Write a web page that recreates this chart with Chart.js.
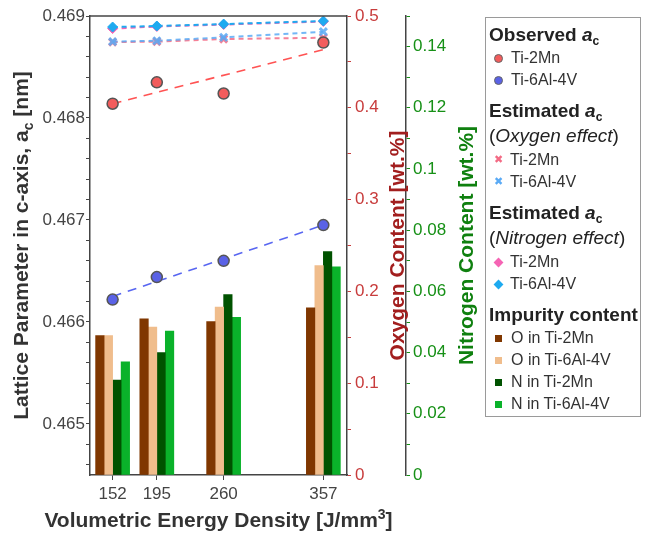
<!DOCTYPE html>
<html>
<head>
<meta charset="utf-8">
<script src="https://cdn.jsdelivr.net/npm/chart.js@4.4.1/dist/chart.umd.min.js"></script>
<style>
  body { margin: 0; background: #fff; font-family: 'Liberation Sans', Arial, sans-serif; }
  #wrap { position: relative; width: 645px; height: 534px; }
  #grafico { position: absolute; left: 0; top: 0; }
  #legenda { position: absolute; left: 485px; top: 17px; width: 148px; border: 1px solid #9a9a9a; padding: 5px 3px 1px 3px; color: #222; }
  #legenda .cab { font-size: 19px; font-weight: bold; line-height: 24px; margin-top: 8px; white-space: nowrap; }
  #legenda .cab:first-child { margin-top: 0; }
  #legenda .sub { font-size: 19px; line-height: 26px; white-space: nowrap; }
  #legenda .item { font-size: 16px; line-height: 22px; color: #333; white-space: nowrap; display: flex; align-items: center; }
  #legenda sub { font-size: 12px; vertical-align: -4px; line-height: 0; }
  .mk { display: inline-block; margin-left: 5px; margin-right: 7px; width: 9px; text-align: center; }
  .circ { width: 7px; height: 7px; border-radius: 50%; border: 1px solid #666; margin-left: 5px; margin-right: 8px; }
  .cruz { font-family: 'DejaVu Sans', sans-serif; font-size: 11px; font-weight: bold; }
  .losango { width: 7px; height: 7px; transform: rotate(45deg); margin-left: 6px; margin-right: 8px; }
  .quad { width: 7px; height: 7px; margin-left: 6px; margin-right: 9px; }
</style>
</head>
<body>
<div id="wrap">
  <canvas id="grafico" width="645" height="534"></canvas>
  <div id="legenda"></div>
</div>
<script>
// eixo x: densidade de energia volumétrica [J/mm3]
const densidade = [152, 195, 260, 357];

// a_c observado [nm]
const obsTi2Mn = [0.46814, 0.46835, 0.46824, 0.46874];
const obsTi64 = [0.46622, 0.46644, 0.46660, 0.46695];

// retas de ajuste (extremos em 152 e 357)
const ajusteX = [152, 357];
const ajusteTi2Mn = [0.46814, 0.46867];
const ajusteTi64 = [0.46625, 0.46695];

// a_c estimado - efeito do oxigênio
const oxiEfeitoTi2Mn = [0.468744, 0.468749, 0.468774, 0.468787];
const oxiEfeitoTi64 = [0.468749, 0.468757, 0.468791, 0.468846];

// a_c estimado - efeito do nitrogênio
const nitEfeitoTi2Mn = [0.468877, 0.468897, 0.468916, 0.468946];
const nitEfeitoTi64 = [0.468892, 0.468902, 0.468921, 0.468951];

// teor de impurezas [wt.%]
const oxiTi2Mn = [0.152, 0.170, 0.167, 0.182];
const oxiTi64 = [0.152, 0.161, 0.183, 0.228];
const nitTi2Mn = [0.031, 0.040, 0.059, 0.073];
const nitTi64 = [0.037, 0.047, 0.0515, 0.068];

// rótulos dos eixos
const rotulosLattice = [0.465, 0.466, 0.467, 0.468, 0.469];
const rotulosOxigenio = [0, 0.1, 0.2, 0.3, 0.4, 0.5];
const rotulosNitrogenio = [0, 0.02, 0.04, 0.06, 0.08, 0.1, 0.12, 0.14];

const FONTE = "'Liberation Sans', Arial, sans-serif";

const cores = {
    obsTi2Mn: '#f25c5c',
    obsTi64: '#5a62e6',
    ajusteTi2Mn: 'rgba(255,64,64,0.9)',
    ajusteTi64: 'rgba(70,85,240,0.9)',
    oxiTi2Mn: 'rgba(243,107,133,0.85)',
    oxiTi64: 'rgba(90,170,245,0.85)',
    nitTi2Mn: '#f564b4',
    nitTi64: '#1eaaf0',
    barOxiTi2Mn: '#803700',
    barOxiTi64: '#f0bd8c',
    barNitTi2Mn: '#005200',
    barNitTi64: '#0ab22a'
};

const pares = valores => densidade.map((x, i) => ({ x: x, y: valores[i] }));

function rotulo(v, lista) {
    const achado = lista.find(r => Math.abs(r - v) < 1e-7);
    return achado === undefined ? '' : String(achado);
}

// marcas maiores e menores do eixo, sem erro de ponto flutuante
function marcas(inicio, fim, passo) {
    const n = Math.round((fim - inicio) / passo);
    return Array.from({ length: n + 1 }, (_, i) => ({ value: +(inicio + i * passo).toFixed(6) }));
}

// texto em partes: p.sub desce, p.sup sobe, com fonte menor
function texto(ctx, x, y, partes, cor, rotacao) {
    ctx.save();
    ctx.translate(x, y);
    ctx.rotate(rotacao);
    ctx.fillStyle = cor;
    ctx.textAlign = 'left';
    ctx.textBaseline = 'alphabetic';
    const fonte = p => (p.sub || p.sup) ? `bold 14px ${FONTE}` : `bold 21px ${FONTE}`;
    let total = 0;
    partes.forEach(p => { ctx.font = fonte(p); total += ctx.measureText(p.t).width; });
    let pos = -total / 2;
    partes.forEach(p => {
        ctx.font = fonte(p);
        ctx.fillText(p.t, pos, p.sub ? 5 : p.sup ? -8 : 0);
        pos += ctx.measureText(p.t).width;
    });
    ctx.restore();
}

// títulos dos eixos e borda superior
const titulosEixos = {
    id: 'titulosEixos',
    afterDraw(chart) {
        const { ctx, chartArea, scales } = chart;
        ctx.save();
        ctx.strokeStyle = '#444';
        ctx.lineWidth = 1.5;
        ctx.beginPath();
        ctx.moveTo(chartArea.left, chartArea.top);
        ctx.lineTo(chartArea.right, chartArea.top);
        ctx.stroke();
        ctx.restore();

        const meio = (chartArea.top + chartArea.bottom) / 2;
        const vertical = -Math.PI / 2;
        texto(ctx, 28, meio, [{ t: 'Lattice Parameter in c-axis, a' }, { t: 'c', sub: true }, { t: ' [nm]' }], '#333', vertical);
        texto(ctx, scales.yN.left - 2, meio, [{ t: 'Oxygen Content [wt.%]' }], '#a21e1e', vertical);
        texto(ctx, scales.yN.right + 7, meio, [{ t: 'Nitrogen Content [wt.%]' }], '#0f800f', vertical);
        texto(ctx, (chartArea.left + chartArea.right) / 2, scales.x.bottom - 7,
            [{ t: 'Volumetric Energy Density [J/mm' }, { t: '3', sup: true }, { t: ']' }], '#333', 0);
    }
};

function barra(label, valores, cor, eixo) {
    return { type: 'bar', label: label, data: pares(valores), backgroundColor: cor, yAxisID: eixo, barThickness: 8.5, order: 1 };
}

function pontos(label, valores, opcoes) {
    return Object.assign({ type: 'line', label: label, data: pares(valores), yAxisID: 'y', clip: false, order: 0 }, opcoes);
}

const datasets = [
    pontos('Observed Ti-2Mn', obsTi2Mn, { showLine: false, pointRadius: 5.5, pointBackgroundColor: cores.obsTi2Mn, pointBorderColor: '#555', pointBorderWidth: 1.5 }),
    pontos('Observed Ti-6Al-4V', obsTi64, { showLine: false, pointRadius: 5.5, pointBackgroundColor: cores.obsTi64, pointBorderColor: '#555', pointBorderWidth: 1.5 }),
    pontos('N effect Ti-6Al-4V', nitEfeitoTi64, { borderColor: cores.nitTi64, borderWidth: 2, borderDash: [5, 4], pointStyle: 'rectRot', pointRadius: 5, pointBackgroundColor: cores.nitTi64, pointBorderColor: cores.nitTi64, pointBorderWidth: 1 }),
    pontos('N effect Ti-2Mn', nitEfeitoTi2Mn, { borderColor: cores.nitTi2Mn, borderWidth: 2, borderDash: [5, 4], pointStyle: 'rectRot', pointRadius: 5, pointBackgroundColor: cores.nitTi2Mn, pointBorderColor: cores.nitTi2Mn, pointBorderWidth: 1 }),
    pontos('O effect Ti-6Al-4V', oxiEfeitoTi64, { borderColor: cores.oxiTi64, borderWidth: 2, borderDash: [5, 4], pointStyle: 'crossRot', pointRadius: 5, pointBorderColor: cores.oxiTi64, pointBorderWidth: 3 }),
    pontos('O effect Ti-2Mn', oxiEfeitoTi2Mn, { borderColor: cores.oxiTi2Mn, borderWidth: 2, borderDash: [5, 4], pointStyle: 'crossRot', pointRadius: 5, pointBorderColor: cores.oxiTi2Mn, pointBorderWidth: 3 }),
    { type: 'line', label: 'Fit Ti-2Mn', data: ajusteX.map((x, i) => ({ x: x, y: ajusteTi2Mn[i] })), yAxisID: 'y', borderColor: cores.ajusteTi2Mn, borderWidth: 1.6, borderDash: [9, 7], pointRadius: 0, order: 0 },
    { type: 'line', label: 'Fit Ti-6Al-4V', data: ajusteX.map((x, i) => ({ x: x, y: ajusteTi64[i] })), yAxisID: 'y', borderColor: cores.ajusteTi64, borderWidth: 1.6, borderDash: [9, 7], pointRadius: 0, order: 0 },
    barra('O in Ti-2Mn', oxiTi2Mn, cores.barOxiTi2Mn, 'yO'),
    barra('O in Ti-6Al-4V', oxiTi64, cores.barOxiTi64, 'yO'),
    barra('N in Ti-2Mn', nitTi2Mn, cores.barNitTi2Mn, 'yN'),
    barra('N in Ti-6Al-4V', nitTi64, cores.barNitTi64, 'yN')
];

const fonteTick = { family: FONTE, size: 17 };

new Chart(document.getElementById('grafico'), {
    type: 'bar',
    data: { datasets: datasets },
    options: {
        responsive: false,
        animation: false,
        events: [],
        layout: { padding: { left: 0, top: 16, right: 179, bottom: 0 } },
        plugins: { legend: { display: false }, tooltip: { enabled: false } },
        scales: {
            x: {
                type: 'linear', position: 'bottom', min: 130, max: 380, offset: false,
                afterBuildTicks: eixo => { eixo.ticks = densidade.map(v => ({ value: v })); },
                afterFit: eixo => { eixo.height = 59; },
                grid: { drawOnChartArea: false, tickLength: 5, color: '#444', offset: false },
                border: { color: '#444', width: 1.5 },
                ticks: { color: '#444', font: fonteTick, padding: 4, autoSkip: false, maxRotation: 0, callback: v => String(v) }
            },
            y: {
                position: 'left', min: 0.4645, max: 0.469,
                afterBuildTicks: eixo => { eixo.ticks = marcas(0.4646, 0.469, 0.0002); },
                afterFit: eixo => { eixo.width = 90; },
                grid: { drawOnChartArea: false, tickLength: 4, color: '#444' },
                border: { color: '#444', width: 1.5 },
                ticks: { autoSkip: false, color: '#444', font: fonteTick, padding: 1, callback: v => rotulo(v, rotulosLattice) }
            },
            yO: {
                position: 'right', min: 0, max: 0.5,
                afterBuildTicks: eixo => { eixo.ticks = marcas(0, 0.5, 0.05); },
                afterFit: eixo => { eixo.width = 59; },
                grid: { drawOnChartArea: false, tickLength: 4, color: '#c83c3c' },
                border: { color: '#444', width: 1.5 },
                ticks: { autoSkip: false, color: '#c83c3c', font: fonteTick, padding: 4, callback: v => rotulo(v, rotulosOxigenio) }
            },
            yN: {
                position: 'right', min: 0, max: 0.15,
                afterBuildTicks: eixo => { eixo.ticks = marcas(0, 0.15, 0.01); },
                afterFit: eixo => { eixo.width = 60; },
                grid: { drawOnChartArea: false, tickLength: 4, color: '#169016' },
                border: { color: '#444', width: 1.5 },
                ticks: { autoSkip: false, color: '#169016', font: fonteTick, padding: 3, callback: v => rotulo(v, rotulosNitrogenio) }
            }
        }
    },
    plugins: [titulosEixos]
});

// legenda montada em HTML por causa do subscrito e itálico
const grupos = [
    { titulo: 'Observed <i>a</i><sub>c</sub>', itens: [['circ', cores.obsTi2Mn, 'Ti-2Mn'], ['circ', cores.obsTi64, 'Ti-6Al-4V']] },
    { titulo: 'Estimated <i>a</i><sub>c</sub>', sub: '(<i>Oxygen effect</i>)', itens: [['cruz', '#f36b85', 'Ti-2Mn'], ['cruz', '#5aaaf5', 'Ti-6Al-4V']] },
    { titulo: 'Estimated <i>a</i><sub>c</sub>', sub: '(<i>Nitrogen effect</i>)', itens: [['losango', cores.nitTi2Mn, 'Ti-2Mn'], ['losango', cores.nitTi64, 'Ti-6Al-4V']] },
    { titulo: 'Impurity content', itens: [['quad', cores.barOxiTi2Mn, 'O in Ti-2Mn'], ['quad', cores.barOxiTi64, 'O in Ti-6Al-4V'], ['quad', cores.barNitTi2Mn, 'N in Ti-2Mn'], ['quad', cores.barNitTi64, 'N in Ti-6Al-4V']] }
];

let html = '';
grupos.forEach(g => {
    html += `<div class="cab">${g.titulo}</div>`;
    if (g.sub) html += `<div class="sub">${g.sub}</div>`;
    g.itens.forEach(([tipo, cor, rot]) => {
        const marca = tipo === 'cruz'
            ? `<span class="mk cruz" style="color:${cor}">✖</span>`
            : `<span class="mk ${tipo}" style="background:${cor}"></span>`;
        html += `<div class="item">${marca}${rot}</div>`;
    });
});
document.getElementById('legenda').innerHTML = html;
</script>
</body>
</html>
